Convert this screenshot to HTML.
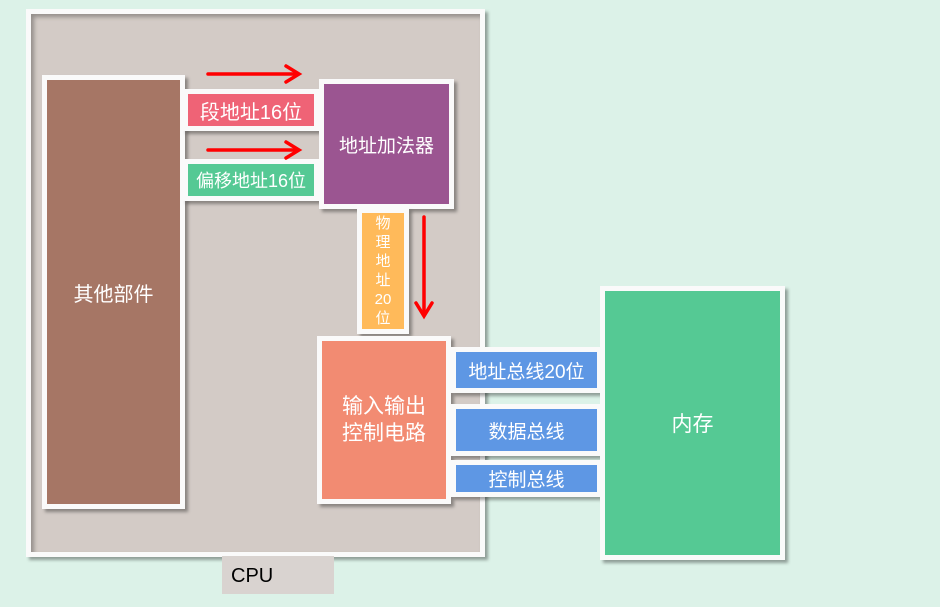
<!DOCTYPE html>
<html><head><meta charset="utf-8"><style>
html,body{margin:0;padding:0}
body{width:940px;height:607px;background:#dcf2e8;position:relative;overflow:hidden;font-family:"Liberation Sans","Noto Sans CJK SC",sans-serif}
.b{position:absolute;box-sizing:border-box;border:5px solid #fafafa;box-shadow:3px 3px 3px rgba(0,0,0,0.35);color:#fff;display:flex;align-items:center;justify-content:center;text-align:center}
</style></head><body>
<div class="b" style="left:26px;top:9px;width:459px;height:548px;background:#d3cbc6;box-shadow:3px 3px 3px rgba(0,0,0,0.35), inset 3px 3px 4px rgba(0,0,0,0.3)"></div>
<div style="position:absolute;left:222px;top:556px;width:112px;height:38px;background:#d9d3d0;font-size:20px;color:#000;line-height:40px;box-sizing:border-box;padding-left:9px">CPU</div>
<div class="b" style="left:42px;top:75px;width:143px;height:434px;background:#a67665;font-size:20px">其他部件</div>
<div class="b" style="left:183px;top:89px;width:136px;height:42px;background:#ef6376;font-size:20px">段地址16位</div>
<div class="b" style="left:183px;top:159px;width:136px;height:42px;background:#55c994;font-size:18px">偏移地址16位</div>
<div class="b" style="left:319px;top:79px;width:135px;height:130px;background:#9b5591;font-size:19px">地址加法器</div>
<div class="b" style="left:357px;top:208px;width:52px;height:126px;background:#ffba5a;font-size:15px;line-height:19px">物<br>理<br>地<br>址<br>20<br>位</div>
<div class="b" style="left:317px;top:336px;width:134px;height:168px;background:#f28b72;font-size:21px;line-height:27px">输入输出<br>控制电路</div>
<div class="b" style="left:451px;top:347px;width:151px;height:46px;background:#5e97e4;font-size:19px">地址总线20位</div>
<div class="b" style="left:451px;top:404px;width:151px;height:52px;background:#5e97e4;font-size:19px">数据总线</div>
<div class="b" style="left:451px;top:460px;width:151px;height:37px;background:#5e97e4;font-size:19px">控制总线</div>
<div class="b" style="left:600px;top:286px;width:185px;height:274px;background:#55c994;font-size:21px">内存</div>
<svg style="position:absolute;left:0;top:0" width="940" height="607">
<g stroke="#ff0000" stroke-width="3.5" fill="none" stroke-linecap="round">
<line x1="208" y1="74" x2="298" y2="74"/><polyline points="286,66 299,74 286,82"/>
<line x1="208" y1="150" x2="298" y2="150"/><polyline points="286,142 299,150 286,158"/>
<line x1="424" y1="217" x2="424" y2="315"/><polyline points="416,303 424,316 432,303"/>
</g></svg>
</body></html>
